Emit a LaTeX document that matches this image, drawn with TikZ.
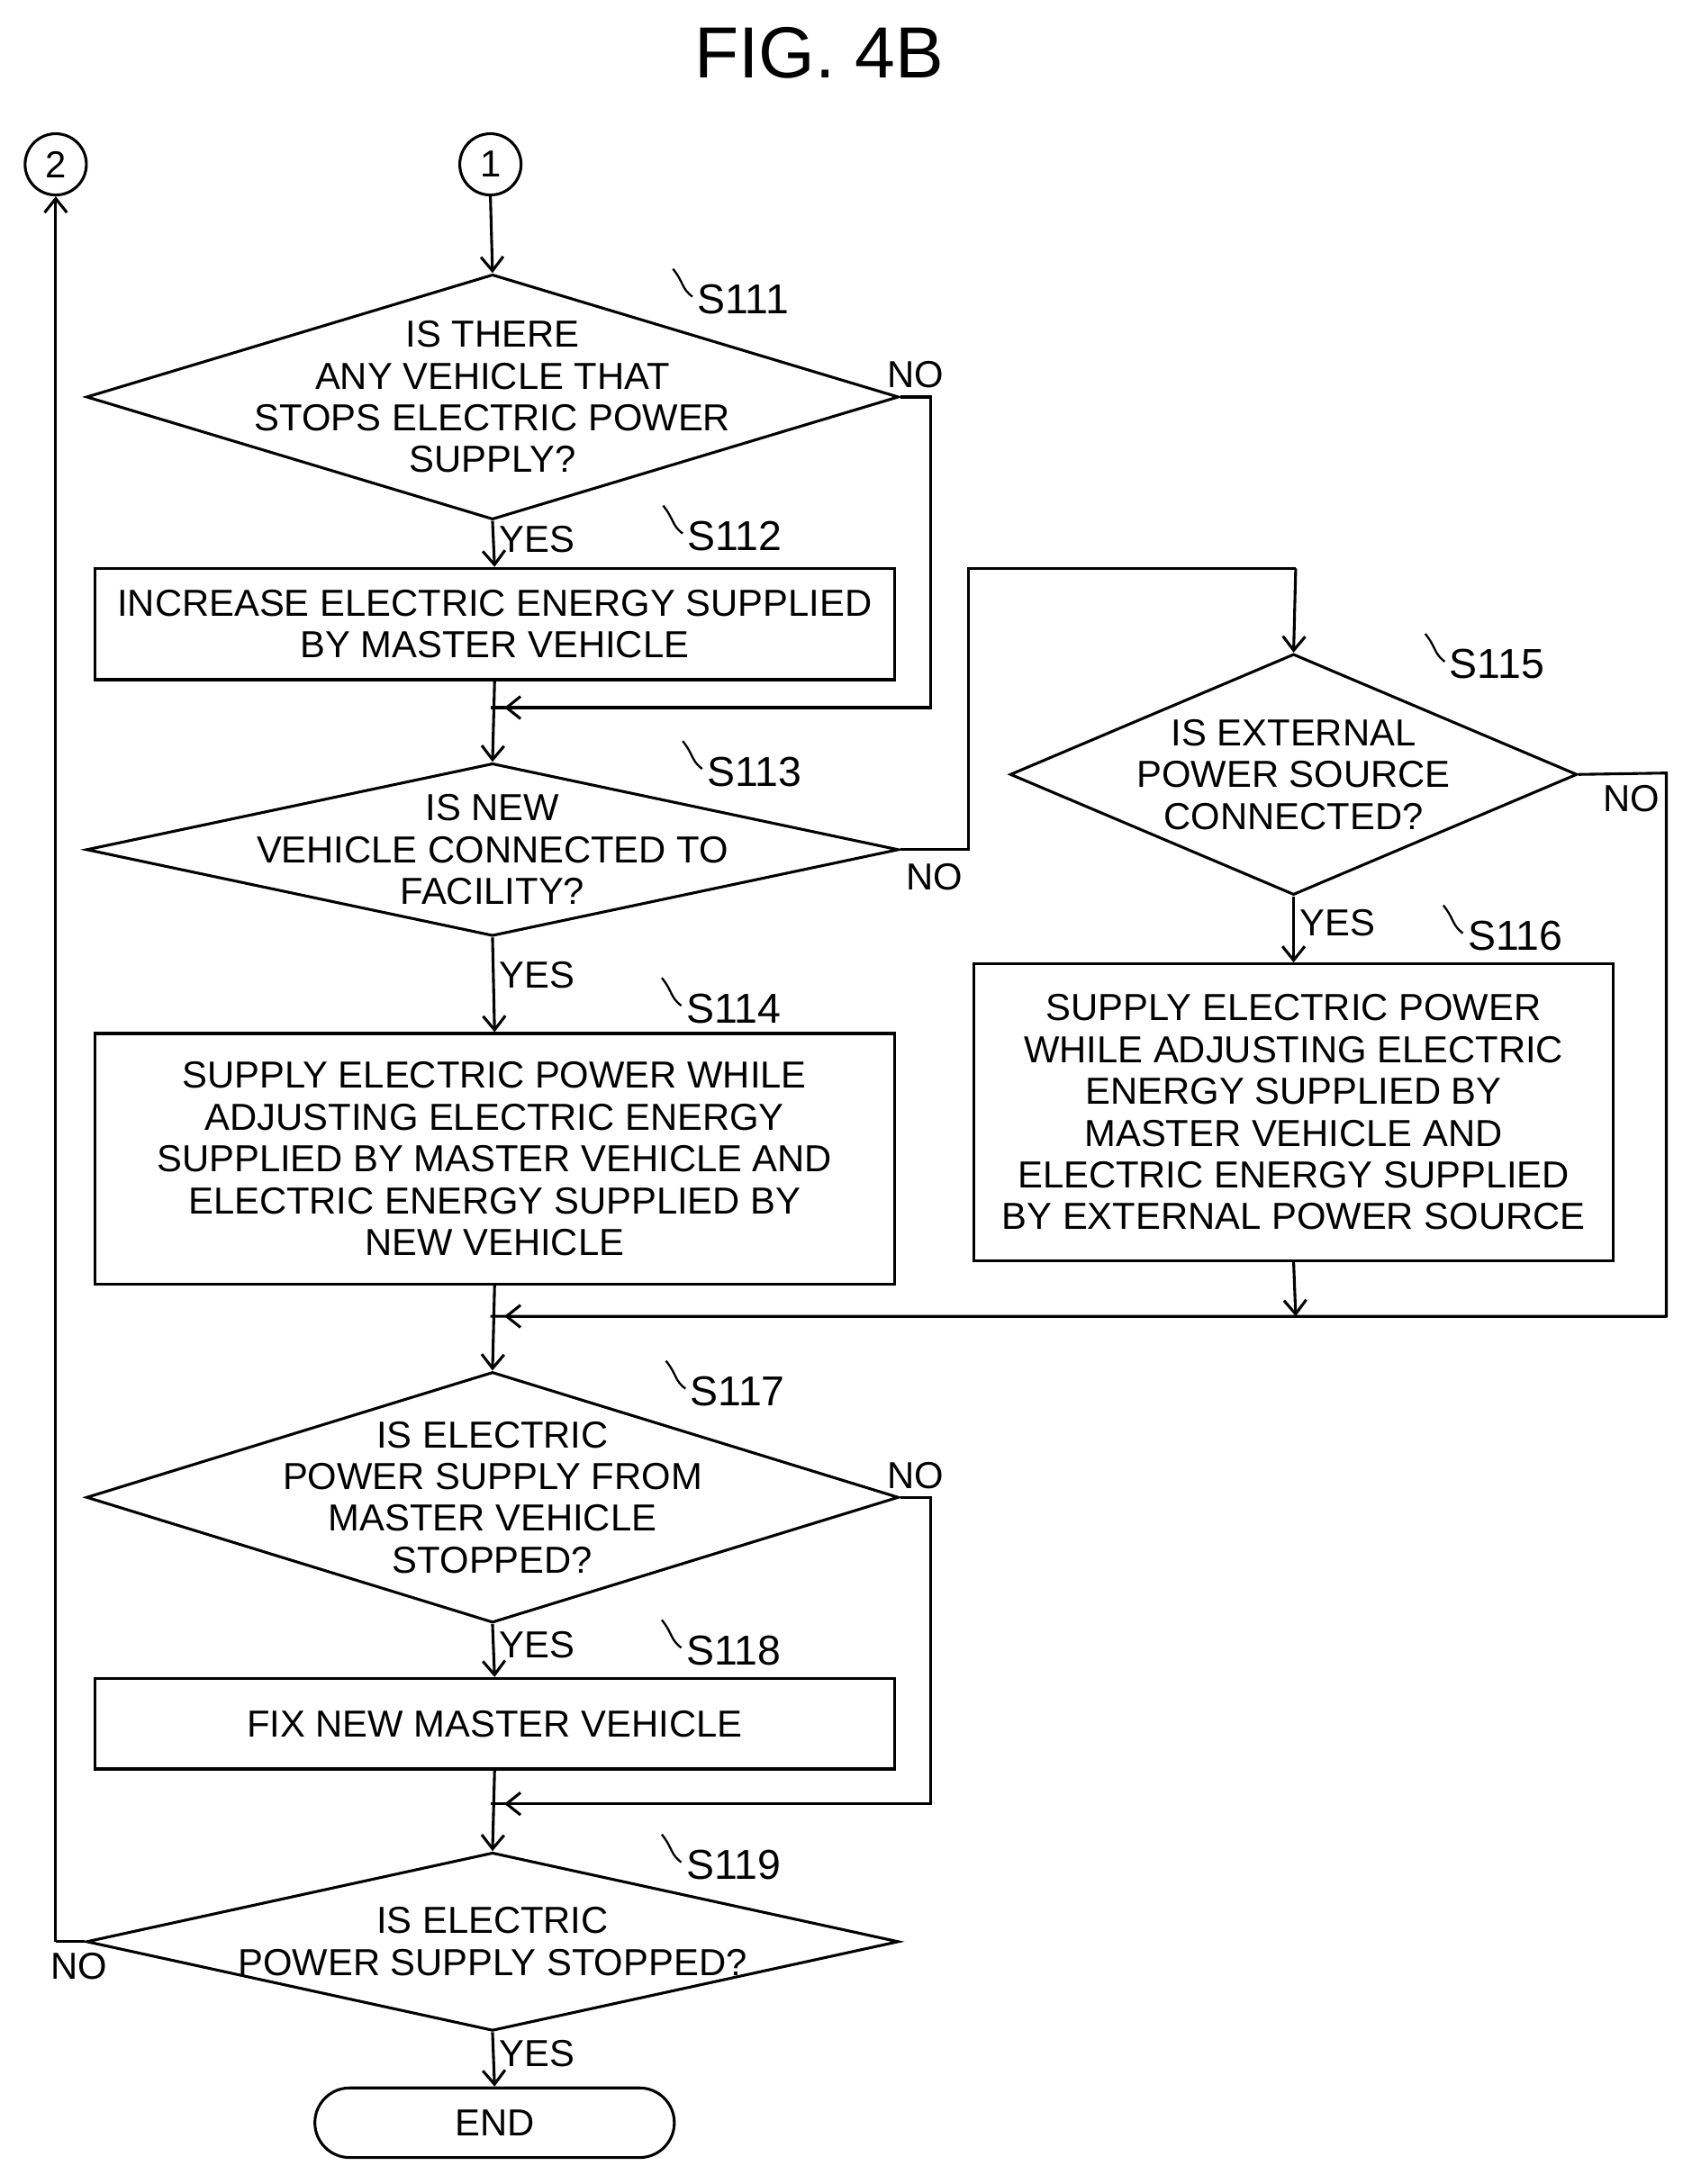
\documentclass[tikz,border=0pt]{standalone}
\usepackage{fontspec}
\setmainfont{Liberation Sans}
\usetikzlibrary{shapes.geometric,arrows.meta,positioning}
\tikzset{
  every node/.style={font=\fontsize{27}{30}\selectfont, align=center},
  dec/.style={shape=diamond, draw, line width=2pt, inner sep=0pt},
  proc/.style={shape=rectangle, draw, line width=2pt, inner sep=0pt},
  conn/.style={shape=circle, draw, line width=2pt, minimum size=44pt, inner sep=0pt},
  term/.style={shape=rectangle, rounded corners=25pt, draw, line width=2pt, minimum width=258pt, minimum height=50pt},
  flow/.style={line width=2pt, -{Straight Barb[length=10pt,width=16pt,line width=2pt]}},
  line/.style={line width=2pt},
  steptext/.style={font=\fontsize{30}{30}\selectfont, anchor=west},
  wave/.style={line width=1.5pt}
}
\newcommand{\steplabel}[3]{%
  \draw[wave] (#1-22,#2+20) .. controls (#1-14,#2+10) and (#1-16,#2+6) .. (#1-8,#2);
  \node[steptext] at (#1-8,#2-2) {#3};}
\begin{document}
\begin{tikzpicture}
  \useasboundingbox (0,0) rectangle (1214pt,-1568pt);
  \begin{scope}[x=1pt,y=-1pt]
  \node[font=\fontsize{52}{52}\selectfont] (title) at (588,38) {FIG. 4B};
  \node[conn] (c2) at (40,118) {2};
  \node[conn] (c1) at (352,118) {1};
  % decisions and processes
  \node[dec, aspect=3.31, minimum width=583pt, minimum height=176pt] (s111) at (353.5,285) {};
  \node at (s111) {IS THERE\\ANY VEHICLE THAT\\STOPS ELECTRIC POWER\\SUPPLY?};
  \node[proc, minimum width=574pt, minimum height=80pt] (s112) at (355,448)
    {INCREASE ELECTRIC ENERGY SUPPLIED\\BY MASTER VEHICLE};
  \node[dec, aspect=4.7, minimum width=583pt, minimum height=124pt] (s113) at (353.5,610) {};
  \node at (s113) {IS NEW\\VEHICLE CONNECTED TO\\FACILITY?};
  \node[proc, minimum width=574pt, minimum height=180pt] (s114) at (355,832)
    {SUPPLY ELECTRIC POWER WHILE\\ADJUSTING ELECTRIC ENERGY\\SUPPLIED BY MASTER VEHICLE AND\\ELECTRIC ENERGY SUPPLIED BY\\NEW VEHICLE};
  \node[dec, aspect=2.35, minimum width=407pt, minimum height=173pt] (s115) at (928.5,556) {};
  \node at (s115) {IS EXTERNAL\\POWER SOURCE\\CONNECTED?};
  \node[proc, minimum width=459pt, minimum height=213pt] (s116) at (928.5,798.5)
    {SUPPLY ELECTRIC POWER\\WHILE ADJUSTING ELECTRIC\\ENERGY SUPPLIED BY\\MASTER VEHICLE AND\\ELECTRIC ENERGY SUPPLIED\\BY EXTERNAL POWER SOURCE};
  \node[dec, aspect=3.24, minimum width=583pt, minimum height=180pt] (s117) at (353.5,1075) {};
  \node at (s117) {IS ELECTRIC\\POWER SUPPLY FROM\\MASTER VEHICLE\\STOPPED?};
  \node[proc, minimum width=574pt, minimum height=65pt] (s118) at (355,1237.5)
    {FIX NEW MASTER VEHICLE};
  \node[dec, aspect=4.55, minimum width=583pt, minimum height=128pt] (s119) at (353.5,1394) {};
  \node at (s119) {IS ELECTRIC\\POWER SUPPLY STOPPED?};
  \node[term] (end) at (355,1524) {END};
  % junctions
  \coordinate (j1) at (352,508);
  \coordinate (j2) at (352,945);
  \coordinate (j3) at (352,1295);
  % connectors
  \draw[flow] (c1.south) -- (s111.north);
  \draw[flow] (s111.south) -- node[right, pos=0.4] {YES} (s112.north);
  \draw[line] (s111.east) -- (668,285) node[above, pos=0.5, yshift=2pt] {NO} -- (668,508) -- (j1);
  \draw[flow] (668,508) -- (362,508);
  \draw[flow] (s112.south) -- (s113.north);
  \draw[line] (s113.east) -- node[below, yshift=-6pt] {NO} (695,610) -- (695,408) -- (930,408);
  \draw[flow] (930,408) -- (s115.north);
  \draw[flow] (s113.south) -- node[right, pos=0.4] {YES} (s114.north);
  \draw[flow] (s115.south) -- node[right, pos=0.4] {YES} (s116.north);
  \draw[line] (s115.east) -- (1196,555) node[below, pos=0.6, yshift=-4pt] {NO} -- (1196,945) -- (j2);
  \draw[flow] (1196,945) -- (362,945);
  \draw[flow] (s116.south) -- (930,945);
  \draw[flow] (s114.south) -- (s117.north);
  \draw[flow] (s117.south) -- node[right, pos=0.4] {YES} (s118.north);
  \draw[line] (s117.east) -- (668,1075) node[above, pos=0.5, yshift=2pt] {NO} -- (668,1295) -- (j3);
  \draw[flow] (668,1295) -- (362,1295);
  \draw[flow] (s118.south) -- (s119.north);
  \draw[flow] (s119.south) -- node[right, pos=0.4] {YES} (end.north);
  \draw[line] (s119.west) -- (40,1394) node[below, pos=0.2, yshift=-4pt] {NO};
  \draw[flow] (40,1394) -- (c2.south);
  \end{scope}
  % step labels
  \begin{scope}[x=1pt,y=1pt]
  \steplabel{505}{-213}{S111}
  \steplabel{498}{-383}{S112}
  \steplabel{512}{-552}{S113}
  \steplabel{497}{-722}{S114}
  \steplabel{1045}{-475}{S115}
  \steplabel{1058}{-670}{S116}
  \steplabel{500}{-997}{S117}
  \steplabel{497}{-1183}{S118}
  \steplabel{497}{-1337}{S119}
  \end{scope}
\end{tikzpicture}
\end{document}
